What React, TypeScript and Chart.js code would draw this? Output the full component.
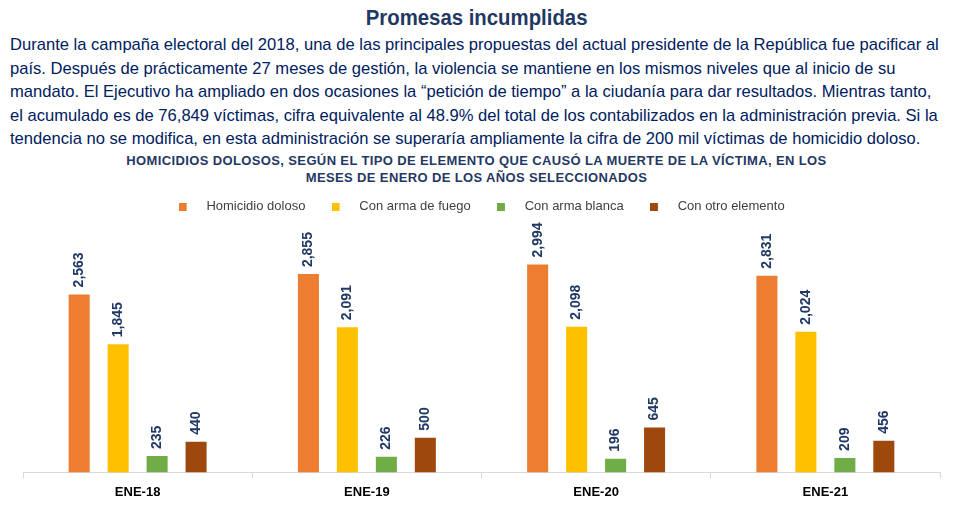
import React, { useEffect, useRef } from "react";
import { Chart, registerables } from "chart.js";

Chart.register(...registerables);

const categories = ["ENE-18", "ENE-19", "ENE-20", "ENE-21"];
const seriesNames = ["Homicidio doloso", "Con arma de fuego", "Con arma blanca", "Con otro elemento"];
const homicidioDoloso = [2563, 2855, 2994, 2831];
const armaFuego = [1845, 2091, 2098, 2024];
const armaBlanca = [235, 226, 196, 209];
const otroElemento = [440, 500, 645, 456];
const seriesColors = ["#ED7D31", "#FFC000", "#70AD47", "#9E480E"];

const titleText = "Promesas incumplidas";
const paragraphLines = [
  "Durante la campaña electoral del 2018, una de las principales propuestas del actual presidente de la República fue pacificar al",
  "país. Después de prácticamente 27 meses de gestión, la violencia se mantiene en los mismos niveles que al inicio de su",
  "mandato. El Ejecutivo ha ampliado en dos ocasiones la “petición de tiempo” a la ciudanía para dar resultados. Mientras tanto,",
  "el acumulado es de 76,849 víctimas, cifra equivalente al 48.9% del total de los contabilizados en la administración previa. Si la",
  "tendencia no se modifica, en esta administración se superaría ampliamente la cifra de 200 mil víctimas de homicidio doloso.",
];
const chartTitleLines = [
  "HOMICIDIOS DOLOSOS, SEGÚN EL TIPO DE ELEMENTO QUE CAUSÓ LA MUERTE DE LA VÍCTIMA, EN LOS",
  "MESES DE ENERO DE LOS AÑOS SELECCIONADOS",
];

const FONT = "'Liberation Sans', Arial, sans-serif";
const NAVY = "#1F3864";

function makeSwatch(color: string): HTMLCanvasElement {
  const c = document.createElement("canvas");
  c.width = 21;
  c.height = 8;
  const g = c.getContext("2d");
  if (g) {
    g.fillStyle = color;
    g.fillRect(0, 0, 8, 8);
  }
  return c;
}

const valueLabels = {
  id: "valueLabels",
  afterDatasetsDraw(chart: any) {
    const ctx = chart.ctx;
    ctx.save();
    ctx.fillStyle = NAVY;
    ctx.font = `bold 14px ${FONT}`;
    ctx.textAlign = "left";
    ctx.textBaseline = "middle";
    chart.data.datasets.forEach((ds: any, i: number) => {
      const meta = chart.getDatasetMeta(i);
      meta.data.forEach((bar: any, j: number) => {
        const v = ds.data[j];
        const txt = v.toLocaleString("en-US");
        ctx.save();
        ctx.translate(bar.x, bar.y - 7);
        ctx.rotate(-Math.PI / 2);
        ctx.fillText(txt, 0, 0);
        ctx.restore();
      });
    });
    ctx.restore();
  },
};

export default function App() {
  const canvasRef = useRef<HTMLCanvasElement>(null);

  useEffect(() => {
    if (!canvasRef.current) return;
    const data = [homicidioDoloso, armaFuego, armaBlanca, otroElemento];
    const swatches = seriesColors.map(makeSwatch);
    const chart = new Chart(canvasRef.current, {
      type: "bar",
      data: {
        labels: categories,
        datasets: seriesNames.map((name, i) => ({
          label: name,
          data: data[i],
          backgroundColor: seriesColors[i],
          borderWidth: 0,
          barPercentage: 0.54,
          categoryPercentage: 0.68,
        })),
      },
      options: {
        responsive: false,
        animation: false,
        layout: { padding: { left: 23, right: 13, top: 4, bottom: 3 } },
        plugins: {
          legend: {
            display: true,
            position: "top",
            labels: {
              usePointStyle: true,
              pointStyleWidth: 21.5,
              boxHeight: 9,
              padding: 26,
              color: "#404040",
              font: { family: FONT, size: 13 },
              generateLabels: (ch: any) => {
                const items = (Chart as any).defaults.plugins.legend.labels.generateLabels(ch);
                items.forEach((it: any, i: number) => {
                  it.pointStyle = swatches[i % swatches.length];
                  it.fontColor = "#404040";
                });
                return items;
              },
            },
          },
          title: { display: false },
          tooltip: { enabled: false },
        },
        scales: {
          x: {
            grid: {
              display: true,
              drawOnChartArea: false,
              drawTicks: true,
              tickLength: 6,
              color: "#D9D9D9",
              offset: true,
            },
            border: { display: true, color: "#D9D9D9", width: 1 },
            ticks: {
              color: "#000000",
              padding: 6,
              font: { family: FONT, size: 13, weight: "bold" },
            },
          },
          y: {
            display: false,
            min: 0,
            max: 3591,
          },
        },
      },
      plugins: [valueLabels],
    });
    return () => chart.destroy();
  }, []);

  return (
    <div
      style={{
        position: "absolute",
        left: 0,
        top: 0,
        width: 953,
        height: 509,
        background: "#ffffff",
        overflow: "hidden",
        fontFamily: FONT,
      }}
    >
      <div
        style={{
          position: "absolute",
          left: 0,
          top: 5,
          width: 953,
          textAlign: "center",
          fontSize: 22,
          fontWeight: "bold",
          color: NAVY,
          lineHeight: "26px",
          transform: "scaleX(0.925)",
          transformOrigin: "478px 0",
        }}
      >
        {titleText}
      </div>
      <div
        style={{
          position: "absolute",
          left: 10,
          top: 33,
          fontSize: 17,
          color: "#002060",
          lineHeight: "23.5px",
          whiteSpace: "nowrap",
          transform: "scaleX(0.975)",
          transformOrigin: "0 0",
        }}
      >
        {paragraphLines.map((l, i) => (
          <div key={i}>{l}</div>
        ))}
      </div>
      <div
        style={{
          position: "absolute",
          left: 0,
          top: 152,
          width: 953,
          textAlign: "center",
          fontSize: 13,
          fontWeight: "bold",
          letterSpacing: "0.37px",
          color: NAVY,
          lineHeight: "17px",
        }}
      >
        {chartTitleLines.map((l, i) => (
          <div key={i}>{l}</div>
        ))}
      </div>
      <canvas
        ref={canvasRef}
        width={953}
        height={339}
        style={{ position: "absolute", left: 0, top: 170, width: 953, height: 339 }}
      />
    </div>
  );
}
